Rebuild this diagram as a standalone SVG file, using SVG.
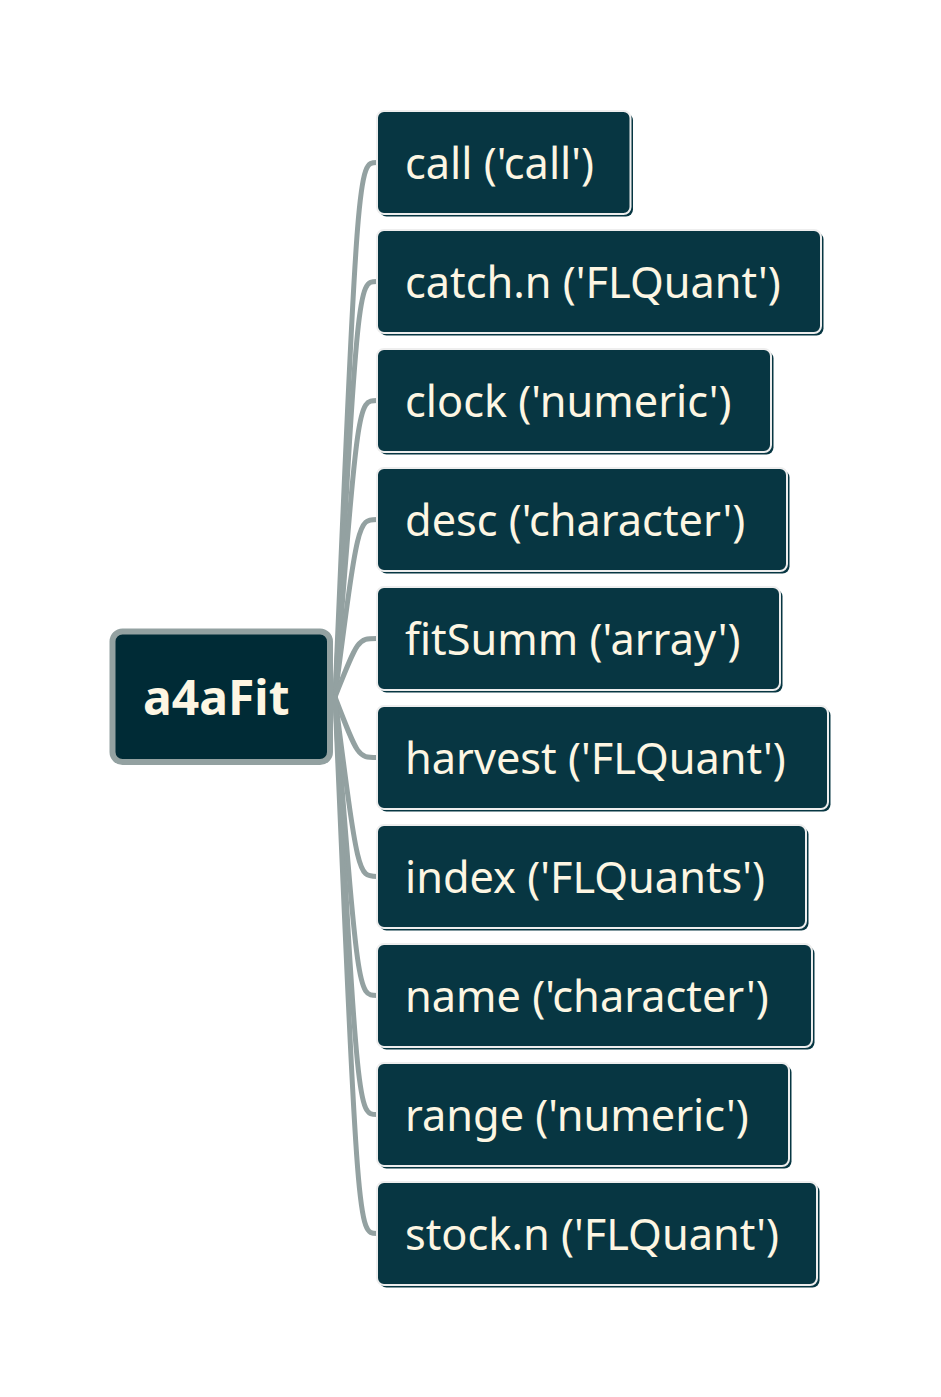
<svg xmlns="http://www.w3.org/2000/svg" width="941" height="1397" viewBox="0 0 941 1397">
<style>
.conn{fill:none;stroke:#93a1a1;stroke-width:5;stroke-linecap:round}
.shadow{fill:#073642}
.box{fill:#073642;stroke:#eeeeee;stroke-width:2}
.lbl{font-family:"Noto Sans","DejaVu Sans",sans-serif;font-size:43.3px;fill:#fdf6e3}
.root{fill:#002b36;stroke:#93a1a1;stroke-width:6}
.rootlbl{font-family:"Noto Sans","DejaVu Sans",sans-serif;font-size:48px;font-weight:bold;fill:#fdf6e3}
</style>
<rect width="941" height="1397" fill="#ffffff"/>
<g id="connectors">
<path class="conn" d="M335 697 C358 162.5 358 162.5 377 162.5"/>
<path class="conn" d="M335 697 C358 281.5 358 281.5 377 281.5"/>
<path class="conn" d="M335 697 C358 400.5 358 400.5 377 400.5"/>
<path class="conn" d="M335 697 C358 519.5 358 519.5 377 519.5"/>
<path class="conn" d="M335 697 C358 638.5 358 638.5 377 638.5"/>
<path class="conn" d="M335 697 C358 757.5 358 757.5 377 757.5"/>
<path class="conn" d="M335 697 C358 876.5 358 876.5 377 876.5"/>
<path class="conn" d="M335 697 C358 995.5 358 995.5 377 995.5"/>
<path class="conn" d="M335 697 C358 1114.5 358 1114.5 377 1114.5"/>
<path class="conn" d="M335 697 C358 1233.5 358 1233.5 377 1233.5"/>
</g>
<g id="root">
<rect class="root" x="112.5" y="631.5" width="217.5" height="130.5" rx="10"/>
<text class="rootlbl" x="143" y="715">a4aFit</text>
</g>
<g id="n-call">
<rect class="shadow" x="379.5" y="113.5" width="253.5" height="103" rx="7"/>
<rect class="box" x="377" y="111" width="253.5" height="103" rx="7"/>
<text class="lbl" x="405" y="179">call ('call')</text>
</g>
<g id="n-catch">
<rect class="shadow" x="379.5" y="232.5" width="444" height="103" rx="7"/>
<rect class="box" x="377" y="230" width="444" height="103" rx="7"/>
<text class="lbl" x="405" y="298">catch.n ('FLQuant')</text>
</g>
<g id="n-clock">
<rect class="shadow" x="379.5" y="351.5" width="394" height="103" rx="7"/>
<rect class="box" x="377" y="349" width="394" height="103" rx="7"/>
<text class="lbl" x="405" y="417">clock ('numeric')</text>
</g>
<g id="n-desc">
<rect class="shadow" x="379.5" y="470.5" width="410" height="103" rx="7"/>
<rect class="box" x="377" y="468" width="410" height="103" rx="7"/>
<text class="lbl" x="405" y="536">desc ('character')</text>
</g>
<g id="n-fitSumm">
<rect class="shadow" x="379.5" y="589.5" width="403" height="103" rx="7"/>
<rect class="box" x="377" y="587" width="403" height="103" rx="7"/>
<text class="lbl" x="405" y="655">fitSumm ('array')</text>
</g>
<g id="n-harvest">
<rect class="shadow" x="379.5" y="708.5" width="451" height="103" rx="7"/>
<rect class="box" x="377" y="706" width="451" height="103" rx="7"/>
<text class="lbl" x="405" y="774">harvest ('FLQuant')</text>
</g>
<g id="n-index">
<rect class="shadow" x="379.5" y="827.5" width="429" height="103" rx="7"/>
<rect class="box" x="377" y="825" width="429" height="103" rx="7"/>
<text class="lbl" x="405" y="893">index ('FLQuants')</text>
</g>
<g id="n-name">
<rect class="shadow" x="379.5" y="946.5" width="435" height="103" rx="7"/>
<rect class="box" x="377" y="944" width="435" height="103" rx="7"/>
<text class="lbl" x="405" y="1012">name ('character')</text>
</g>
<g id="n-range">
<rect class="shadow" x="379.5" y="1065.5" width="412" height="103" rx="7"/>
<rect class="box" x="377" y="1063" width="412" height="103" rx="7"/>
<text class="lbl" x="405" y="1131">range ('numeric')</text>
</g>
<g id="n-stock">
<rect class="shadow" x="379.5" y="1184.5" width="440" height="103" rx="7"/>
<rect class="box" x="377" y="1182" width="440" height="103" rx="7"/>
<text class="lbl" x="405" y="1250">stock.n ('FLQuant')</text>
</g>
</svg>
